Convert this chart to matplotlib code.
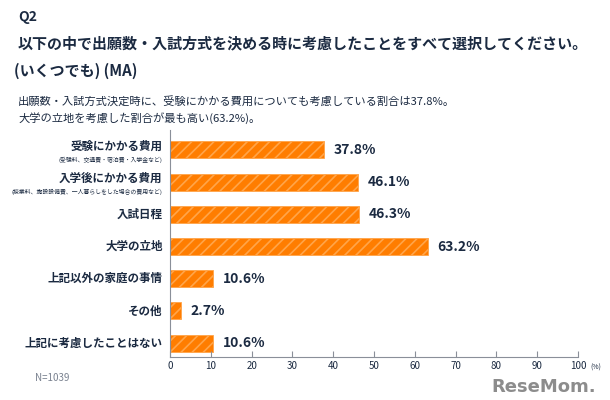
import matplotlib.pyplot as plt

plt.rcParams['font.family'] = ['Noto Sans CJK JP', 'DejaVu Sans']
plt.rcParams['hatch.linewidth'] = 1.2

labels = ['受験にかかる費用', '入学後にかかる費用', '入試日程', '大学の立地',
          '上記以外の家庭の事情', 'その他', '上記に考慮したことはない']
notes = ['(受験料、交通費・宿泊費・入学金など)',
         '(授業料、施設設備費、一人暮らしをした場合の費用など)',
         '', '', '', '', '']
values = [37.8, 46.1, 46.3, 63.2, 10.6, 2.7, 10.6]
ticks = [0, 10, 20, 30, 40, 50, 60, 70, 80, 90, 100]

navy = '#1b2a41'
fig = plt.figure(figsize=(6.1, 4.0), dpi=100)
ax = fig.add_axes([170/610, 1-357/400, 408/610, 227/400])

pos = list(range(len(values)))
ax.barh(pos, values, height=0.53, color='#ff7d00', edgecolor='#ffa54a',
        hatch='///', linewidth=0.6)
ax.set_xlim(0, 100)
ax.set_ylim(6.43, -0.62)

for i, v in enumerate(values):
    ax.text(v + 2.3, i, f'{v}%', va='center', ha='left', fontsize=10,
            fontweight='bold', color=navy)

ax.set_yticks([])
for i, (lab, nt) in enumerate(zip(labels, notes)):
    if nt:
        ax.text(-1.8, i - 0.12, lab, ha='right', va='center', fontsize=8.3,
                fontweight='bold', color=navy, clip_on=False)
        ax.text(-1.8, i + 0.3, nt, ha='right', va='center', fontsize=4.2,
                color=navy, clip_on=False)
    else:
        ax.text(-1.8, i, lab, ha='right', va='center', fontsize=8.3,
                fontweight='bold', color=navy, clip_on=False)

ax.set_xticks(ticks)
ax.set_xticklabels([str(t) for t in ticks], fontsize=7, color=navy)
ax.tick_params(axis='x', direction='in', length=4, color='#8a8f99', pad=3)
for s in ['top', 'right']:
    ax.spines[s].set_visible(False)
ax.spines['left'].set_color('#8a8f99')
ax.spines['bottom'].set_color('#8a8f99')
ax.text(103, 6.43 + 0.33, '(%)', fontsize=5, color=navy, ha='left', va='center',
        clip_on=False)

fig.text(18/610, 1-17/400, 'Q2', fontsize=10, fontweight='bold', color=navy,
         va='center')
fig.text(18/610, 1-43/400,
         '以下の中で出願数・入試方式を決める時に考慮したことをすべて選択してください。',
         fontsize=10.8, fontweight='bold', color=navy, va='center')
fig.text(14/610, 1-71/400, '(いくつでも) (MA)', fontsize=10.8, fontweight='bold',
         color=navy, va='center')
fig.text(18/610, 1-102/400,
         '出願数・入試方式決定時に、受験にかかる費用についても考慮している割合は37.8%。',
         fontsize=8.1, color=navy, va='center')
fig.text(18/610, 1-118/400, '大学の立地を考慮した割合が最も高い(63.2%)。',
         fontsize=8.1, color=navy, va='center')
fig.text(35/610, 1-378/400, 'N=1039', fontsize=7, color='#7a8290', va='center')
fig.text(596/610, 1-387/400, 'ReseMom.', fontsize=13, fontweight='bold',
         color='#8c8c8c', ha='right', va='center', family=['DejaVu Sans'])

fig.savefig('out.png', dpi=100)
